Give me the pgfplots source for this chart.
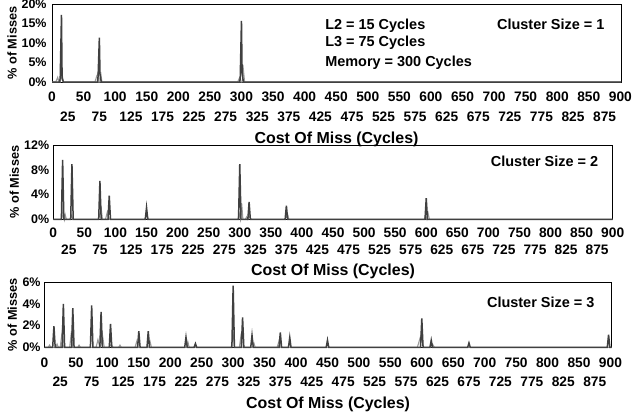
\documentclass[border=0pt]{standalone}
\usepackage{fontspec}
\setmainfont{Liberation Sans}
\usepackage{pgfplots}
\pgfplotsset{compat=1.18}
\definecolor{dk}{HTML}{404040}
\definecolor{lt}{HTML}{9A9A9A}
\pgfplotsset{
 panel/.style={
  scale only axis, clip=false,
  axis line style={black, line width=0.8bp},
  major tick length=0pt,
  /pgf/number format/assume math mode=true,
  xtick={0,50,...,900},
  extra x ticks={25,75,...,875},
  xticklabel style={font=\fontsize{13.8}{14}\selectfont\bfseries, inner sep=0pt, anchor=base},
  yticklabel style={font=\fontsize{12.5}{13}\selectfont\bfseries, inner sep=0pt, anchor=east},
  yticklabel={\pgfmathprintnumber{\tick}\%},
  xlabel={Cost Of Miss (Cycles)},
  xlabel style={font=\fontsize{16}{17}\selectfont\bfseries, inner sep=0pt, at={(axis description cs:0.5,0)}, anchor=north},
  xmin=0, ymin=0,
 },
 dkl/.style={dk, line width=1.5bp, mark=none},
 ltl/.style={lt, line width=1.1bp, mark=none},
}
\tikzset{
 txt/.style={font=\fontsize{14.5}{15}\selectfont\bfseries, inner sep=0pt, anchor=base west},
 ylab/.style={font=\fontsize{12.8}{13}\selectfont\bfseries, inner sep=0pt, rotate=90},
}
\begin{document}
\begin{tikzpicture}[x=1bp,y=1bp]
\useasboundingbox (0,0) rectangle (634,-416);
% ---------- Panel 1 ----------
\begin{axis}[panel, at={(52bp,-4bp)}, anchor=north west, width=569bp, height=78bp,
  xmax=901, ymax=20, ytick={0,5,10,15,20},
  xticklabel style={yshift=-19.9bp},
  extra x tick style={xticklabel style={yshift=-19.3bp}},
  yticklabel style={xshift=-5.3bp},
  xlabel style={yshift=-49.5bp}]
\addplot[ltl] coordinates {(0,0)(6,0)(9,1.2)(11,0)(13,0)(16,2)(18,0)(68,0)(71,1.6)(73,2.2)(74,0)(76,0)(77,2.6)(79,0)(294,0)(297,1.1)(299,0)(301,0)(303,3.2)(305,0)(901,0)};
\addplot[dkl] coordinates {(0,0)(12,0)(13,1)(15,17.2)(16,1)(18,0)(72,0)(73,1.5)(75,11.4)(76,2)(78,0)(297,0)(298,0.8)(300,15.7)(301,2.5)(303,0)(901,0)};
\node[txt] at (rel axis cs:0.48,0.677) {L2 = 15 Cycles};
\node[txt] at (rel axis cs:0.48,0.45) {L3 = 75 Cycles};
\node[txt] at (rel axis cs:0.48,0.203) {Memory = 300 Cycles};
\node[txt] at (rel axis cs:0.782,0.677) {Cluster Size = 1};
\node[ylab] at ([xshift=-40bp]rel axis cs:0,0.5) {\% of Misses};
\end{axis}
% ---------- Panel 2 ----------
\begin{axis}[panel, at={(53.3bp,-145bp)}, anchor=north west, width=559.4bp, height=74.3bp,
  xmax=900, ymax=12, ytick={0,4,8,12},
  xticklabel style={yshift=-17.9bp},
  extra x tick style={xticklabel style={yshift=-17bp}},
  yticklabel style={xshift=-4bp},
  xlabel style={yshift=-44bp}]
\addplot[ltl] coordinates {(0,0)(13,0)(16,1)(18,0)(19,0.8)(21,0)(27,0)(29,0.6)(31,0)(73,0)(77,1.8)(79,0)(84,0)(87,1.2)(90,0)(147,0)(150,0.8)(153,0)(297,0)(299,1)(301,0)(303,2.6)(305,0)(309,0)(311,0.4)(313,0)(316,0.6)(318,0)(373,0)(377,0.8)(379,0)(597,0)(599,0.6)(601,0)(603,1)(605,0)(900,0)};
\addplot[dkl] coordinates {(0,0)(13,0)(15,9.6)(17,0)(28,0)(30,8.9)(32,0)(73,0)(75,6.2)(77,0)(88,0)(90,3.8)(92,0)(148,0)(150,1.9)(152,0)(298,0)(300,8.9)(302,0)(313,0)(315,2.8)(317,0)(373,0)(375,2.2)(377,0)(598,0)(600,3.4)(602,0)(900,0)};
\node[txt] at (rel axis cs:0.782,0.705) {Cluster Size = 2};
\node[ylab] at ([xshift=-39bp]rel axis cs:0,0.5) {\% of Misses};
\end{axis}
% ---------- Panel 3 ----------
\begin{axis}[panel, at={(44.5bp,-282bp)}, anchor=north west, width=567.2bp, height=65.3bp,
  xmax=902, ymax=6, ytick={0,2,4,6},
  xticklabel style={yshift=-19.9bp},
  extra x tick style={xticklabel style={yshift=-19.4bp}},
  yticklabel style={xshift=-3.8bp},
  xlabel style={yshift=-49.7bp}]
\addplot[ltl] coordinates {(0,0)(6,0)(8,0.2)(10,0)(18,0)(20,0.3)(22,0)(25,0)(28,1.4)(30,0)(40,0)(43,1.5)(45,0)(53,0)(55,0.2)(57,0)(82,0)(85,0.7)(88,0)(89,0)(92,1.2)(95,0)(103,0)(106,0.3)(109,0)(118,0)(120,0.2)(122,0)(144,0)(147,0.6)(149,0)(166,0)(168,0.5)(170,0)(226,0)(228,0.5)(230,0)(297,0)(300,1.2)(302,0)(310,0)(312,0.9)(314,0)(331,0)(333,0.4)(335,0)(370,0)(373,0.6)(375,0)(593,0)(598,1.0)(603,0)(614,0)(617,0.3)(620,0)(902,0)};
\addplot[dkl] coordinates {(0,0)(13,0)(15,1.94)(17,0)(28,0)(30,4.0)(32,0)(43,0)(45,3.6)(47,0)(73,0)(75,3.85)(77,0)(88,0)(90,3.26)(92,0)(103,0)(105,2.15)(107,0)(148,0)(150,1.48)(152,0)(163,0)(165,1.48)(167,0)(223,0)(225,0.92)(227,0)(238,0)(240,0.34)(242,0)(298,0)(300,5.66)(302,0)(313,0)(315,2.74)(317,0)(328,0)(330,1.1)(332,0)(373,0)(375,1.36)(377,0)(388,0)(390,0.9)(392,0)(448,0)(450,0.65)(452,0)(598,0)(600,2.65)(602,0)(613,0)(615,0.65)(617,0)(673,0)(675,0.4)(677,0)(895,0)(897,1.17)(899,0)(902,0)};
\node[txt] at (rel axis cs:0.78,0.609) {Cluster Size = 3};
\node[ylab] at ([xshift=-32.2bp]rel axis cs:0,0.5) {\% of Misses};
\end{axis}
\end{tikzpicture}
\end{document}
